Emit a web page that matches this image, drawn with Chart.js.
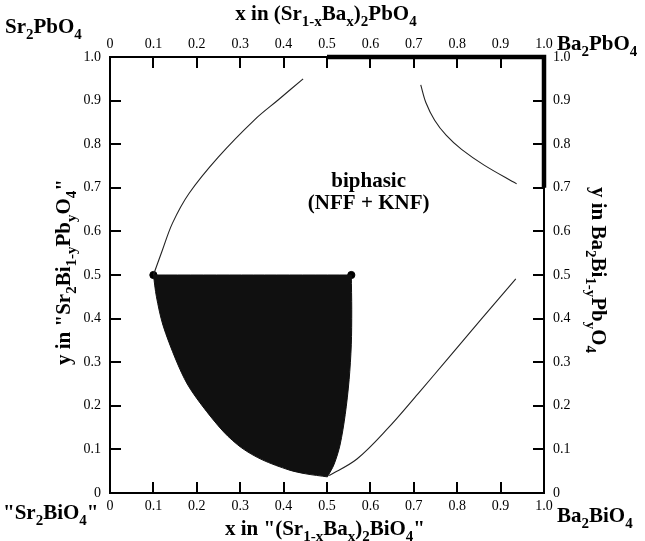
<!DOCTYPE html>
<html>
<head>
<meta charset="utf-8">
<script src="https://cdn.jsdelivr.net/npm/chart.js@4/dist/chart.umd.min.js"></script>
<style>
html,body{margin:0;padding:0;background:#fff;}
#wrap{position:relative;width:645px;height:541px;}
</style>
</head>
<body>
<div id="wrap"><canvas id="c" width="645" height="541"></canvas></div>
<script>
// ---------- data ----------
const tickValues = [0, 0.1, 0.2, 0.3, 0.4, 0.5, 0.6, 0.7, 0.8, 0.9, 1.0];
const tickLabels = ['0', '0.1', '0.2', '0.3', '0.4', '0.5', '0.6', '0.7', '0.8', '0.9', '1.0'];
const innerTickValues = [0.1, 0.2, 0.3, 0.4, 0.5, 0.6, 0.7, 0.8, 0.9];

// single-phase (shaded) region boundary, clockwise from the top-left end point
// (corner points are listed twice so the outline keeps sharp corners)
const shadedX = [0.100, 0.100, 0.330, 0.556, 0.556, 0.557, 0.556, 0.551, 0.542, 0.530, 0.516, 0.501, 0.501,
                 0.451, 0.412, 0.351, 0.304, 0.262, 0.211, 0.178, 0.152, 0.122, 0.107, 0.100];
const shadedY = [0.500, 0.500, 0.500, 0.500, 0.500, 0.420, 0.340, 0.260, 0.180, 0.110, 0.065, 0.037, 0.037,
                 0.044, 0.053, 0.076, 0.103, 0.140, 0.202, 0.250, 0.305, 0.385, 0.450, 0.500];

// end points of the top edge of the shaded region
const dotX = [0.100, 0.556];
const dotY = [0.500, 0.500];

// phase boundaries
const upperLeftX  = [0.100, 0.120, 0.144, 0.182, 0.250, 0.333, 0.388, 0.445];
const upperLeftY  = [0.500, 0.555, 0.619, 0.687, 0.771, 0.856, 0.902, 0.950];
const upperRightX = [0.716, 0.728, 0.748, 0.775, 0.810, 0.862, 0.937];
const upperRightY = [0.936, 0.895, 0.855, 0.820, 0.788, 0.752, 0.709];
const lowerRightX = [0.505, 0.569, 0.640, 0.710, 0.780, 0.855, 0.935];
const lowerRightY = [0.040, 0.078, 0.148, 0.228, 0.310, 0.398, 0.491];

// single-phase solid solution along the border (thick line)
const solidX = [0.5, 1.0, 1.0];
const solidY = [1.0, 1.0, 0.7];

// texts (_{..} = subscript)
const topTitle    = 'x in (Sr_{1-x}Ba_{x})_{2}PbO_{4}';
const bottomTitle = 'x in "(Sr_{1-x}Ba_{x})_{2}BiO_{4}"';
const leftTitle   = 'y in "Sr_{2}Bi_{1-y}Pb_{y}O_{4}"';
const rightTitle  = 'y in Ba_{2}Bi_{1-y}Pb_{y}O_{4}';
const cornerTL = 'Sr_{2}PbO_{4}';
const cornerTR = 'Ba_{2}PbO_{4}';
const cornerBL = '"Sr_{2}BiO_{4}"';
const cornerBR = 'Ba_{2}BiO_{4}';
const regionLines = ['biphasic', '(NFF + KNF)'];
const regionAtX = 0.596;
const regionAtY = [0.718, 0.668];

// ---------- chart ----------
const FAM = "'Liberation Serif', 'Times New Roman', serif";
const pts = (xs, ys) => xs.map((x, i) => ({x: x, y: ys[i]}));

function parseRich(s) {
  const out = []; const re = /_\{([^}]*)\}/g; let last = 0, m;
  while ((m = re.exec(s))) {
    if (m.index > last) out.push({t: s.slice(last, m.index), sub: false});
    out.push({t: m[1], sub: true}); last = re.lastIndex;
  }
  if (last < s.length) out.push({t: s.slice(last), sub: false});
  return out;
}
function drawRich(ctx, s, x, y, o) {
  const size = o.size, sub = Math.round(size * 0.7);
  const fN = 'bold ' + size + 'px ' + FAM, fS = 'bold ' + sub + 'px ' + FAM;
  const segs = parseRich(s); let w = 0;
  segs.forEach(g => { ctx.font = g.sub ? fS : fN; g.w = ctx.measureText(g.t).width; w += g.w; });
  ctx.save();
  ctx.translate(x, y); if (o.rot) ctx.rotate(o.rot);
  ctx.fillStyle = '#000'; ctx.textBaseline = 'alphabetic'; ctx.textAlign = 'left';
  let cx = o.align === 'center' ? -w / 2 : 0;
  const base = size * 0.34;
  segs.forEach(g => { ctx.font = g.sub ? fS : fN; ctx.fillText(g.t, cx, base + (g.sub ? size * 0.26 : 0)); cx += g.w; });
  ctx.restore();
}

const overlayPlugin = {
  id: 'overlay',
  afterDraw(chart) {
    const ctx = chart.ctx, a = chart.chartArea;
    const xs = chart.scales.x, ys = chart.scales.y;
    // inward-pointing tick marks, positioned by each scale
    const L = 11, W = 2;
    ctx.save();
    ctx.setLineDash([]);
    ctx.globalAlpha = 1;
    ctx.fillStyle = '#000';
    innerTickValues.forEach(v => {
      const px = chart.scales.x.getPixelForValue(v);
      ctx.fillRect(Math.round(px - W / 2), Math.round(a.bottom - L), W, L);
      const px2 = chart.scales.x2.getPixelForValue(v);
      ctx.fillRect(Math.round(px2 - W / 2), Math.round(a.top), W, L);
      const py = chart.scales.y.getPixelForValue(v);
      ctx.fillRect(Math.round(a.left), Math.round(py - W / 2), L, W);
      const py2 = chart.scales.y2.getPixelForValue(v);
      ctx.fillRect(Math.round(a.right - L), Math.round(py2 - W / 2), L, W);
    });
    ctx.restore();

    const cx = (a.left + a.right) / 2, cy = (a.top + a.bottom) / 2;
    drawRich(ctx, topTitle, cx - 1, 13, {size: 21, align: 'center'});
    drawRich(ctx, bottomTitle, cx - 2, 528, {size: 21, align: 'center'});
    drawRich(ctx, leftTitle, 63, cy - 3, {size: 21, align: 'center', rot: -Math.PI / 2});
    drawRich(ctx, rightTitle, 599, cy - 5, {size: 21, align: 'center', rot: Math.PI / 2});
    drawRich(ctx, cornerTL, 5, 26, {size: 21});
    drawRich(ctx, cornerTR, 557, 43, {size: 21});
    drawRich(ctx, cornerBL, 3, 512, {size: 21});
    drawRich(ctx, cornerBR, 557, 515, {size: 21});
    regionLines.forEach((t, i) => {
      drawRich(ctx, t, xs.getPixelForValue(regionAtX), ys.getPixelForValue(regionAtY[i]), {size: 21, align: 'center'});
    });
  }
};

function axis(pos, pad) {
  return {
    type: 'linear', position: pos, min: 0, max: 1,
    afterBuildTicks: s => { s.ticks = tickValues.map(v => ({value: v})); },
    afterFit: s => {
      if (pos === 'left') s.width = 110;
      if (pos === 'right') s.width = 101;
      if (pos === 'top') s.height = 57;
      if (pos === 'bottom') s.height = 48;
    },
    ticks: {
      callback: (v, i) => tickLabels[i], padding: pad, color: '#000',
      font: {family: FAM, size: 14}, maxRotation: 0, autoSkip: false
    },
    grid: {drawOnChartArea: false, drawTicks: false, tickLength: 0},
    border: {display: true, color: '#000', width: 2}
  };
}

new Chart(document.getElementById('c'), {
  type: 'scatter',
  data: {
    datasets: [
      {data: pts(shadedX, shadedY), showLine: true, fill: 'shape', backgroundColor: '#101010',
       borderColor: '#101010', borderWidth: 1, pointRadius: 0, tension: 0.3},
      {data: pts(upperLeftX, upperLeftY), showLine: true, borderColor: '#222', borderWidth: 1.1, pointRadius: 0, tension: 0.35},
      {data: pts(upperRightX, upperRightY), showLine: true, borderColor: '#222', borderWidth: 1.1, pointRadius: 0, tension: 0.35},
      {data: pts(lowerRightX, lowerRightY), showLine: true, borderColor: '#222', borderWidth: 1.1, pointRadius: 0, tension: 0.35},
      {data: pts(dotX, dotY), showLine: false, pointRadius: 3.6, pointBackgroundColor: '#000', pointBorderColor: '#000', clip: false},
      {data: pts(solidX, solidY), showLine: true, borderColor: '#000', borderWidth: 4.5, pointRadius: 0,
       borderJoinStyle: 'miter', borderCapStyle: 'butt', clip: false}
    ]
  },
  options: {
    responsive: false, animation: false, devicePixelRatio: 1,
    layout: {padding: 0},
    plugins: {legend: {display: false}, tooltip: {enabled: false}},
    scales: {
      x: axis('bottom', 5),
      x2: axis('top', 4),
      y: axis('left', 9),
      y2: axis('right', 9)
    }
  },
  plugins: [overlayPlugin]
});
</script>
</body>
</html>
